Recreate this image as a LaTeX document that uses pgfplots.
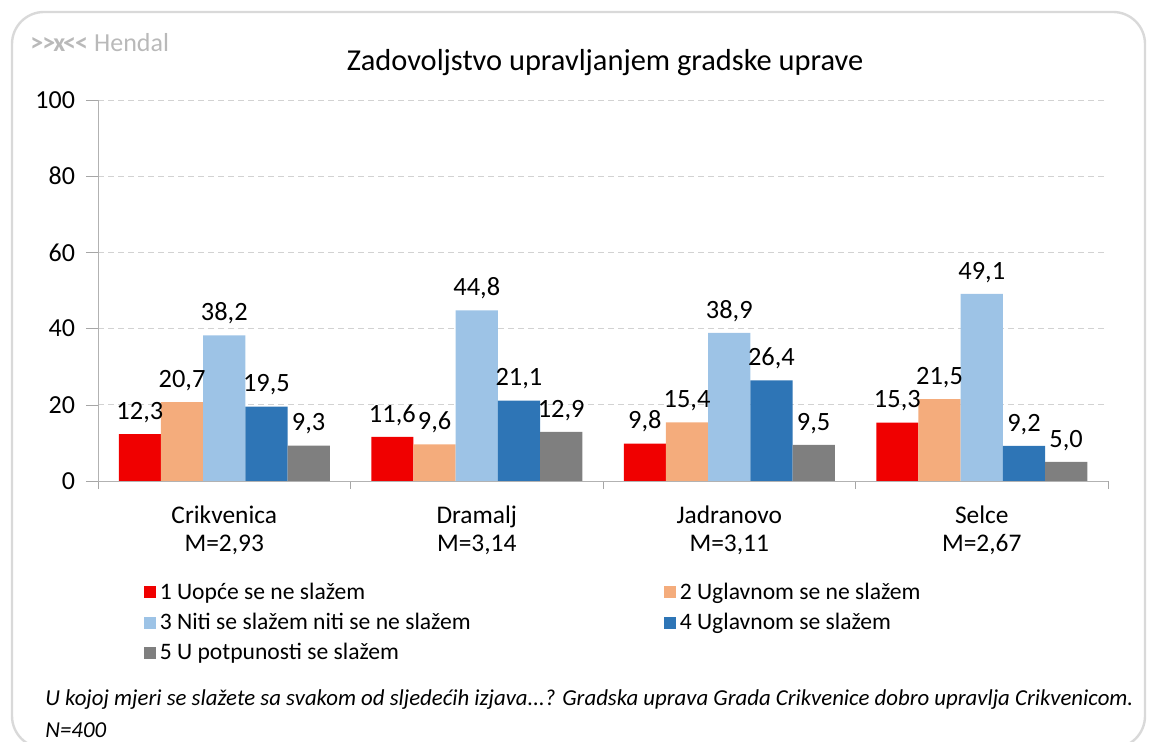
\documentclass[border=0pt]{standalone}
\usepackage{fontspec}
\setmainfont{Carlito}
\usepackage{pgfplots}
\pgfplotsset{compat=1.18}
\definecolor{c1}{RGB}{240,0,0}
\definecolor{c2}{RGB}{244,172,124}
\definecolor{c3}{RGB}{157,195,230}
\definecolor{c4}{RGB}{46,117,182}
\definecolor{c5}{RGB}{127,127,127}
\begin{document}
\begin{tikzpicture}
\useasboundingbox (0pt,0pt) rectangle (574.5pt,371pt);
\clip (0pt,0pt) rectangle (574.5pt,371pt);
\draw[gray!30, line width=1.2pt, rounded corners=16pt] (6pt,-3pt) rectangle (572.5pt,365pt);
\node[anchor=west, text=gray!55, font=\fontsize{13}{15}\selectfont, inner sep=0pt] at (15pt,349.5pt) {\textbf{>\kern-0.5pt>\kern-1pt x\kern-1pt<\kern-0.5pt<}\kern3pt Hendal};
\node[font=\fontsize{15.2}{17}\selectfont] at (302.5pt,339.5pt) {Zadovoljstvo upravljanjem gradske uprave};
\begin{axis}[at={(49pt,130.5pt)}, anchor=south west, scale only axis,
 width=505pt, height=190.5pt,
 ybar=0pt, bar width=21.1pt,
 ymin=0, ymax=100, xmin=-0.5, xmax=3.5,
 ytick={0,20,40,60,80,100},
 xtick={0,1,2,3},
 xticklabels={{Crikvenica\\M=2,93},{Dramalj\\M=3,14},{Jadranovo\\M=3,11},{Selce\\M=2,67}},
 minor xtick={-0.5,0.5,1.5,2.5,3.5},
 major x tick style={draw=none},
 tick align=outside, major tick length=6pt, minor tick length=4pt,
 tick style={gray!70},
 axis lines*=left,
 axis line style={gray!60},
 ymajorgrids, major grid style={densely dashed, gray!35},
 /pgf/number format/assume math mode=true,
 yticklabel style={font=\fontsize{13}{15.5}\selectfont, xshift=-2pt},
 xticklabel style={align=center, font=\fontsize{12.7}{14}\selectfont, yshift=-3pt},
 nodes near coords={\pgfmathprintnumber[fixed,fixed zerofill,precision=1,use comma]{\pgfplotspointmeta}},
 nodes near coords style={font=\fontsize{13.2}{15}\selectfont, inner sep=2.5pt, yshift=3pt},
 legend columns=2,
 legend cell align=left,
 legend style={at={(0.039,-0.245)}, anchor=north west, draw=none, fill=none,
   font=\fontsize{11.8}{13}\selectfont, row sep=1.5pt},
 legend image code/.code={\fill[#1] (0pt,-3pt) rectangle (6pt,3pt);},
]
\addplot[fill=c1, draw=none] coordinates {(0,12.3) (1,11.6) (2,9.8) (3,15.3)};
\addlegendentry{\makebox[250pt][l]{1 Uopće se ne slažem}}
\addplot[fill=c2, draw=none] coordinates {(0,20.7) (1,9.6) (2,15.4) (3,21.5)};
\addlegendentry{2 Uglavnom se ne slažem}
\addplot[fill=c3, draw=none] coordinates {(0,38.2) (1,44.8) (2,38.9) (3,49.1)};
\addlegendentry{\makebox[250pt][l]{3 Niti se slažem niti se ne slažem}}
\addplot[fill=c4, draw=none] coordinates {(0,19.5) (1,21.1) (2,26.4) (3,9.2)};
\addlegendentry{4 Uglavnom se slažem}
\addplot[fill=c5, draw=none] coordinates {(0,9.3) (1,12.9) (2,9.5) (3,5.0)};
\addlegendentry{\makebox[250pt][l]{5 U potpunosti se slažem}}
\end{axis}
\node[anchor=west, font=\fontsize{11.4}{12}\selectfont\itshape, inner sep=0pt] at (22.5pt,21pt) {U kojoj mjeri se slažete sa svakom od sljedećih izjava...? Gradska uprava Grada Crikvenice dobro upravlja Crikvenicom.};
\node[anchor=west, font=\fontsize{11.4}{12}\selectfont\itshape, inner sep=0pt] at (22.5pt,6pt) {N=400};
\end{tikzpicture}
\end{document}
